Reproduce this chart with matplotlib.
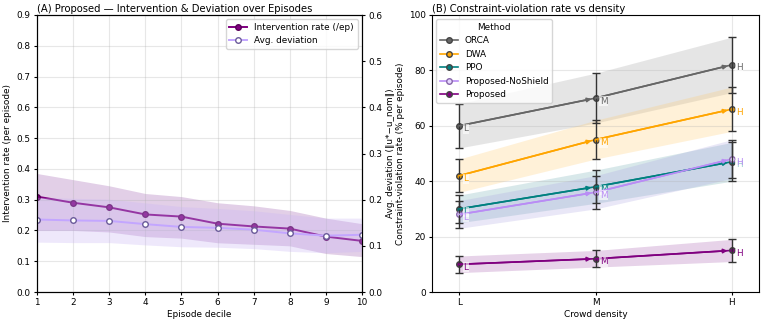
import numpy as np
import matplotlib.pyplot as plt

# ---- panel A data ----
deciles = np.arange(1, 11)
interv = [0.31, 0.29, 0.275, 0.252, 0.245, 0.222, 0.213, 0.206, 0.18, 0.166]
interv_lo = [0.20, 0.20, 0.195, 0.18, 0.175, 0.16, 0.155, 0.15, 0.125, 0.115]
interv_hi = [0.385, 0.365, 0.345, 0.32, 0.31, 0.29, 0.28, 0.265, 0.24, 0.222]
dev = [0.157, 0.155, 0.154, 0.147, 0.141, 0.139, 0.135, 0.127, 0.122, 0.124]
dev_lo = [0.108, 0.107, 0.107, 0.102, 0.098, 0.097, 0.094, 0.088, 0.085, 0.088]
dev_hi = [0.205, 0.203, 0.201, 0.193, 0.185, 0.181, 0.176, 0.168, 0.160, 0.160]

# ---- panel B data ----
densities = ["L", "M", "H"]
methods = ["ORCA", "DWA", "PPO", "Proposed-NoShield", "Proposed"]
viol = {
    "ORCA": [60, 70, 82],
    "DWA": [42, 55, 66],
    "PPO": [30, 38, 47],
    "Proposed-NoShield": [28, 36, 48],
    "Proposed": [10, 12, 15],
}
viol_err = {
    "ORCA": [8, 9, 10],
    "DWA": [6, 7, 8],
    "PPO": [5, 6, 7],
    "Proposed-NoShield": [5, 6, 7],
    "Proposed": [3, 3, 4],
}
colors = {
    "ORCA": "#666666",
    "DWA": "#ffa500",
    "PPO": "#008080",
    "Proposed-NoShield": "#b98cf5",
    "Proposed": "#800080",
}
band_colors = {
    "ORCA": ("#9a9a9a", 0.25),
    "DWA": ("#ffc966", 0.25),
    "PPO": ("#4f98a0", 0.22),
    "Proposed-NoShield": ("#a8a0e0", 0.25),
    "Proposed": ("#a050a8", 0.25),
}

plt.rcParams['font.size'] = 6.4

fig = plt.figure(figsize=(7.67, 3.22), dpi=100)
ax1 = fig.add_axes([37/767, 1 - 292/322, 325/767, 277/322])
ax3 = fig.add_axes([432/767, 1 - 292/322, 327/767, 277/322])

# ---- panel A ----
ax1.fill_between(deciles, interv_lo, interv_hi, color="#a060b0", alpha=0.3, lw=0)
l1, = ax1.plot(deciles, interv, "-o", color="#800080", lw=1.4, ms=4,
               mfc="#800080", mec="#5a005a", label="Intervention rate (/ep)")
ax1.set_xlim(1, 10)
ax1.set_ylim(0, 0.9)
ax1.set_xticks(deciles)
ax1.set_yticks(np.arange(0, 0.91, 0.1))
ax1.set_xlabel("Episode decile", labelpad=2)
ax1.set_ylabel("Intervention rate (per episode)", labelpad=3)
ax1.grid(True, alpha=0.3)
ax1.tick_params(length=2.5, pad=2)
ax1.set_title("(A) Proposed — Intervention & Deviation over Episodes", loc="left", fontsize=7.2, pad=2)

ax2 = ax1.twinx()
ax2.fill_between(deciles, dev_lo, dev_hi, color="#c8b4f5", alpha=0.3, lw=0)
l2, = ax2.plot(deciles, dev, "-o", color="#c3a6ff", lw=1.4, ms=4,
               mfc="white", mec="#6a5a9a", label="Avg. deviation")
ax2.set_ylim(0, 0.6)
ax2.set_yticks(np.arange(0, 0.61, 0.1))
ax2.tick_params(length=2.5, pad=2)
ax2.set_ylabel("Avg. deviation (‖u*−u_nom‖)", labelpad=3)
ax1.legend(handles=[l1, l2], loc="upper right", fontsize=6.4)

# ---- panel B ----
x = np.arange(len(densities))
for m in methods:
    y = np.array(viol[m])
    e = np.array(viol_err[m])
    bc, ba = band_colors[m]
    ax3.fill_between(x, y - e, y + e, color=bc, alpha=ba, lw=0)
    ax3.plot(x, y, "-o", color=colors[m], lw=1.2, ms=4,
             mfc=colors[m] if m != "Proposed-NoShield" else "#e6d8ff",
             mec="#444444" if m != "Proposed-NoShield" else "#8866aa", label=m)
    ax3.errorbar(x, y, yerr=e, fmt="none", ecolor="#333333", elinewidth=1.0, capsize=3)
    for i in range(1, len(x)):
        ax3.annotate("", xy=(x[i], y[i]), xytext=(x[i-1], y[i-1]),
                     arrowprops=dict(arrowstyle="-|>", color=colors[m], lw=1.2,
                                     shrinkA=0, shrinkB=3, mutation_scale=6))
    for i, lab in enumerate(densities):
        ax3.annotate(lab, (x[i], y[i]), xytext=(3, -4), textcoords="offset points",
                     color=colors[m], fontsize=6.4,
                     bbox=dict(boxstyle="square,pad=0.05", fc="white", ec="none", alpha=0.6))

ax3.set_xlim(-0.2, 2.2)
ax3.set_ylim(0, 100)
ax3.set_xticks(x)
ax3.set_xticklabels(densities)
ax3.set_xlabel("Crowd density", labelpad=2)
ax3.set_ylabel("Constraint-violation rate (% per episode)", labelpad=3)
ax3.grid(True, alpha=0.3)
ax3.tick_params(length=2.5, pad=2)
ax3.set_title("(B) Constraint-violation rate vs density", loc="left", fontsize=7.2, pad=2)
ax3.legend(title="Method", loc="upper left", fontsize=6.4, title_fontsize=6.4)

fig.savefig("out.png", dpi=100)
